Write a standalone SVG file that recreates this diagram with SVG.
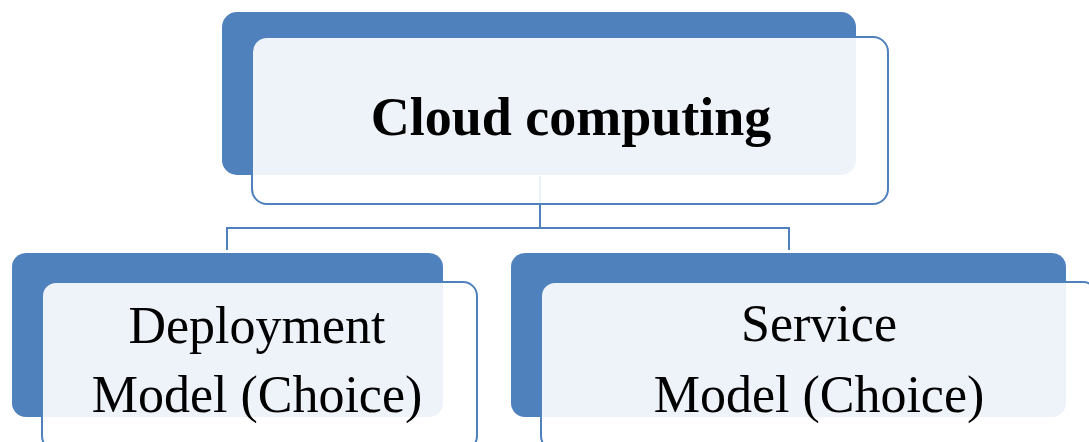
<svg xmlns="http://www.w3.org/2000/svg" width="1089" height="442" viewBox="0 0 1089 442">
  <style>
    .back { fill: #4F81BD; }
    .front { fill: #FFFFFF; fill-opacity: 0.9; stroke: #4F81BD; stroke-width: 2; }
    .link { fill: none; stroke: #4F81BD; stroke-width: 2; }
    .label { font-family: "Liberation Serif", "Times New Roman", serif; fill: #000000; text-anchor: middle; }
    .title { font-size: 54px; font-weight: bold; }
    .sub { font-size: 52px; }
  </style>
  <rect width="1089" height="442" fill="#FFFFFF"/>

  <!-- back plates -->
  <rect class="back" x="222" y="12" width="634" height="163" rx="15"/>
  <rect class="back" x="12" y="253" width="431" height="164" rx="14"/>
  <rect class="back" x="511" y="253" width="555" height="164" rx="14"/>

  <g id="connectors">
    <path class="link" d="M540 176 V228 M227 250 V228 H789 V250"/>
  </g>

  <g id="cloud-computing">
    <rect class="front" x="252" y="37" width="636" height="167" rx="15"/>
    <text class="label title" x="571" y="135">Cloud computing</text>
  </g>

  <g id="deployment-model">
    <rect class="front" x="42" y="282" width="435" height="168" rx="14"/>
    <text class="label sub" x="257" y="343">Deployment</text>
    <text class="label sub" x="257" y="412">Model (Choice)</text>
  </g>

  <g id="service-model">
    <rect class="front" x="541" y="282" width="556" height="168" rx="14"/>
    <text class="label sub" x="819" y="341">Service</text>
    <text class="label sub" x="819" y="412">Model (Choice)</text>
  </g>
</svg>
